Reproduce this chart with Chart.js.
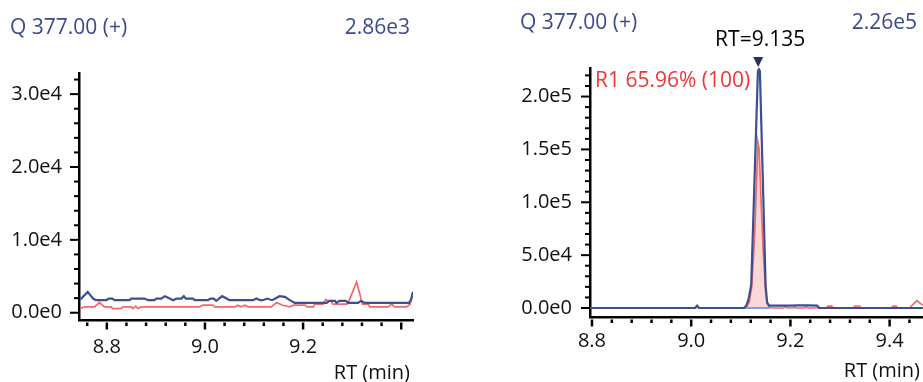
<!DOCTYPE html>
<html>
<head>
<meta charset="utf-8">
<script src="https://cdn.jsdelivr.net/npm/chart.js@4.4.1/dist/chart.umd.min.js"></script>
<style>
  html, body { margin: 0; padding: 0; background: #fff; overflow: hidden; }
  #wrap { position: relative; width: 923px; height: 382px; font-family: 'Open Sans', sans-serif; }
  .panel { position: absolute; top: 0; height: 382px; }
  .lbl { position: absolute; font-size: 20px; line-height: 20px; white-space: nowrap; }
  .hdr { color: #3b4a8c; font-size: 21px; line-height: 21px; }
  .axt { color: #111; }
</style>
</head>
<body>
<div id="wrap">
  <div class="panel" style="left:0;width:460px"><canvas id="chartA" width="460" height="382"></canvas></div>
  <div class="panel" style="left:460px;width:463px"><canvas id="chartB" width="463" height="382"></canvas></div>
  <div class="lbl hdr" id="hdrA" style="left:10px;top:16px"></div>
  <div class="lbl hdr" id="maxA" style="right:513px;top:16px"></div>
  <div class="lbl hdr" id="hdrB" style="left:520px;top:11px"></div>
  <div class="lbl hdr" id="maxB" style="right:6px;top:11px"></div>
  <div class="lbl axt" id="xtA" style="right:513px;top:361.5px"></div>
  <div class="lbl axt" id="xtB" style="right:3px;top:359.5px"></div>
</div>
<script>
// ---- labels ----
const traceLabel = 'Q 377.00 (+)';
const panelAMaxLabel = '2.86e3';
const panelBMaxLabel = '2.26e5';
const xAxisTitle = 'RT (min)';
const rtLabel = 'RT=9.135';
const qualLabel = 'R1 65.96% (100)';

// ---- tick labels ----
const panelAXLabels = ['8.8', '9.0', '9.2'];
const panelBXLabels = ['8.8', '9.0', '9.2', '9.4'];
const panelAYLabels = ['0.0e0', '1.0e4', '2.0e4', '3.0e4'];
const panelBYLabels = ['0.0e0', '5.0e4', '1.0e5', '1.5e5', '2.0e5'];

// ---- panel A: quantifier (blue) and qualifier (red) traces ----
const panelAQuantRT = [8.746, 8.761, 8.772, 8.778, 8.799, 8.804, 8.811, 8.816, 8.846, 8.850,
  8.877, 8.884, 8.897, 8.901, 8.911, 8.918, 8.925, 8.935, 8.942, 8.952, 8.957, 8.961, 8.976,
  8.979, 9.006, 9.011, 9.018, 9.023, 9.035, 9.044, 9.050, 9.098, 9.105, 9.112, 9.118, 9.127,
  9.137, 9.152, 9.163, 9.173, 9.183, 9.248, 9.253, 9.265, 9.268, 9.274, 9.287, 9.292, 9.312,
  9.318, 9.326, 9.416, 9.420, 9.424];
const panelAQuantInt = [1810, 2860, 1940, 1720, 1720, 1940, 1940, 1720, 1720, 1940,
  1940, 1720, 1720, 1940, 1940, 2270, 2040, 1720, 1940, 1940, 2270, 1940, 1940,
  1720, 1720, 1940, 1940, 1620, 2270, 1940, 1720, 1720, 1940, 1720, 1720, 1940,
  1720, 2270, 2170, 1720, 1350, 1350, 1620, 1620, 1350, 1620, 1620, 1350, 1350,
  1620, 1350, 1350, 1810, 2860];
const panelAQualRT = [8.746, 8.755, 8.775, 8.785, 8.795, 8.809, 8.812, 8.829, 8.833, 8.850,
  8.853, 8.859, 8.863, 8.870, 8.989, 8.996, 9.016, 9.020, 9.061, 9.067, 9.074, 9.081, 9.088,
  9.135, 9.146, 9.158, 9.173, 9.180, 9.204, 9.208, 9.221, 9.224, 9.241, 9.246, 9.251, 9.256,
  9.261, 9.289, 9.292, 9.309, 9.321, 9.333, 9.336, 9.374, 9.380, 9.387, 9.411, 9.418, 9.424];
const panelAQualInt = [570, 800, 800, 1400, 800, 800, 570, 570, 800, 800,
  570, 890, 570, 800, 800, 1030, 1030, 800, 800, 1030, 800, 1030, 800,
  800, 1400, 1030, 800, 1030, 1030, 800, 800, 1170, 1170, 1810, 1620, 1620,
  1170, 1170, 1350, 4230, 1170, 1170, 800, 800, 1170, 800, 800, 1170, 2630];

// ---- panel B: quantifier (blue) and qualifier (red) traces ----
const panelBQuantRT = [8.796, 9.008, 9.012, 9.016, 9.106, 9.111, 9.116, 9.121, 9.127, 9.1345,
  9.1365, 9.1385, 9.145, 9.150, 9.153, 9.157, 9.200, 9.215, 9.235, 9.254, 9.258, 9.467];
const panelBQuantInt = [0, 0, 2200, 0, 0, 2000, 9000, 22000, 111000, 224000,
  226000, 224000, 111000, 22000, 5000, 2200, 2200, 2500, 2500, 2200, 0, 0];
const panelBQualRT = [8.796, 9.008, 9.012, 9.016, 9.106, 9.112, 9.117, 9.122, 9.128, 9.1345,
  9.137, 9.141, 9.145, 9.150, 9.154, 9.158, 9.162, 9.185, 9.190, 9.194, 9.205, 9.208, 9.212,
  9.228, 9.232, 9.236, 9.272, 9.276, 9.283, 9.287, 9.326, 9.330, 9.339, 9.343, 9.403, 9.407,
  9.413, 9.417, 9.440, 9.455, 9.467];
const panelBQualInt = [0, 0, 1500, 0, 0, 1500, 6000, 20000, 70000, 157000,
  150000, 100000, 55000, 15000, 4000, 800, 0, 0, 1200, 0, 0, 1000, 0,
  0, 1200, 0, 0, 1800, 1800, 0, 0, 1900, 1900, 0, 0, 1800,
  1800, 0, 0, 7000, 2500];

// integrated peak window and apex
const peakStart = 9.106;
const peakEnd = 9.158;
const peakRT = 9.135;

const BLUE = '#3b4f91';
const RED = '#f06a6a';
const FONT = "'Open Sans', sans-serif";

function steps(from, to, step) {
  const n = Math.round((to - from) / step);
  return Array.from({ length: n + 1 }, (_, i) => +(from + i * step).toFixed(4));
}
function series(rt, val) { return rt.map((t, i) => ({ x: t, y: val[i] })); }
function isMajor(v, step) { const q = v / step; return Math.abs(q - Math.round(q)) < 1e-6; }

// tick marks: minor and longer major marks on both axes
const tickMarks = {
  id: 'tickMarks',
  afterDraw(chart, args, opts) {
    const { ctx, chartArea: a, scales: { x, y } } = chart;
    ctx.save();
    ctx.strokeStyle = '#000';
    ctx.lineWidth = 2.5;
    x.ticks.forEach(t => {
      const px = x.getPixelForValue(t.value);
      const len = isMajor(t.value, opts.xMajor) ? 7 : 3.5;
      ctx.beginPath();
      ctx.moveTo(px, a.bottom + 2.5);
      ctx.lineTo(px, a.bottom + 2.5 + len);
      ctx.stroke();
    });
    ctx.lineWidth = 2;
    y.ticks.forEach(t => {
      const py = y.getPixelForValue(t.value);
      const len = isMajor(t.value, opts.yMajor) ? 9 : 5;
      ctx.beginPath();
      ctx.moveTo(a.left, py);
      ctx.lineTo(a.left - len, py);
      ctx.stroke();
    });
    ctx.restore();
  }
};

// retention-time marker and ion-ratio note on the sample panel
const peakNotes = {
  id: 'peakNotes',
  afterDraw(chart, args, opts) {
    if (!opts.show) return;
    const { ctx, chartArea: a, scales: { x, y } } = chart;
    const px = x.getPixelForValue(peakRT);
    const apex = y.getPixelForValue(Math.max(...panelBQuantInt)) - 2;
    ctx.save();
    ctx.fillStyle = '#263061';
    ctx.beginPath();
    ctx.moveTo(px - 5, apex - 10);
    ctx.lineTo(px + 5, apex - 10);
    ctx.lineTo(px, apex);
    ctx.closePath();
    ctx.fill();
    ctx.font = '21px ' + FONT;
    ctx.fillStyle = '#000';
    ctx.textAlign = 'center';
    ctx.textBaseline = 'alphabetic';
    ctx.fillText(rtLabel, px + 2, apex - 21);
    ctx.fillStyle = '#ee3636';
    ctx.textAlign = 'left';
    ctx.fillText(qualLabel, a.left + 5, a.top + 18.5);
    ctx.restore();
  }
};

function buildChart(id, p) {
  const datasets = [
    { data: series(p.quantRT, p.quantInt), borderColor: BLUE, borderWidth: 2.2, fill: false },
    { data: series(p.qualRT, p.qualInt), borderColor: RED, borderWidth: 1.7, fill: false }
  ];
  if (p.area) {
    const pts = series(p.qualRT, p.qualInt).filter(d => d.x >= peakStart && d.x <= peakEnd);
    datasets.push({ data: pts, borderWidth: 0, borderColor: 'rgba(0,0,0,0)',
      backgroundColor: 'rgba(240,110,110,0.28)', fill: 'origin' });
    datasets.push({ data: [{ x: peakStart, y: 0 }, { x: peakEnd, y: 0 }],
      borderColor: '#4f86d6', borderWidth: 1.5, fill: false });
  }
  return new Chart(document.getElementById(id), {
    type: 'line',
    data: { datasets },
    options: {
      responsive: false,
      animation: false,
      devicePixelRatio: 1,
      layout: { padding: p.padding },
      elements: { point: { radius: 0 }, line: { tension: 0 } },
      plugins: {
        legend: { display: false },
        tooltip: { enabled: false },
        tickMarks: { xMajor: 0.2, yMajor: p.yMajor },
        peakNotes: { show: !!p.area }
      },
      scales: {
        x: {
          type: 'linear', bounds: 'data', min: p.xMin, max: p.xMax,
          afterBuildTicks: s => { s.ticks = p.xTicks.map(v => ({ value: v })); },
          afterFit: s => { s.height = p.xHeight; },
          grid: { display: false, drawTicks: false },
          border: { display: true, color: '#000', width: 2.5 },
          ticks: {
            autoSkip: false, maxRotation: 0, padding: p.xPad, color: '#111',
            font: { family: FONT, size: 20 },
            callback: v => {
              const s = v.toFixed(1);
              return isMajor(v, 0.2) && p.xLabels.includes(s) ? s : '';
            }
          }
        },
        y: {
          type: 'linear', bounds: 'data', min: p.yMin, max: p.yMax,
          afterBuildTicks: s => { s.ticks = p.yTicks.map(v => ({ value: v })); },
          afterFit: s => { s.width = p.yWidth; },
          grid: { display: false, drawTicks: false },
          border: { display: true, color: '#000', width: 2.5 },
          ticks: {
            autoSkip: false, padding: p.yPad, color: '#111',
            font: { family: FONT, size: 20 },
            callback: v => {
              const s = v.toExponential(1).replace('e+', 'e');
              return isMajor(v, p.yMajor) && p.yLabels.includes(s) ? s : '';
            }
          }
        }
      }
    },
    plugins: [tickMarks, peakNotes]
  });
}

buildChart('chartA', {
  quantRT: panelAQuantRT, quantInt: panelAQuantInt, qualRT: panelAQualRT, qualInt: panelAQualInt,
  xMin: 8.7433, xMax: 9.424, yMin: -1000, yMax: 32900,
  xTicks: steps(8.76, 9.40, 0.04), yTicks: steps(0, 32000, 2000),
  xLabels: panelAXLabels, yLabels: panelAYLabels, yMajor: 10000,
  padding: { top: 73, right: 47, bottom: 0, left: 0 },
  yWidth: 79, xHeight: 62, xPad: 15, yPad: 17, area: false
});

buildChart('chartB', {
  quantRT: panelBQuantRT, quantInt: panelBQuantInt, qualRT: panelBQualRT, qualInt: panelBQualInt,
  xMin: 8.796, xMax: 9.4673, yMin: -8500, yMax: 227000,
  xTicks: steps(8.80, 9.44, 0.04), yTicks: steps(0, 220000, 10000),
  xLabels: panelBXLabels, yLabels: panelBYLabels, yMajor: 50000,
  padding: { top: 68, right: 0, bottom: 0, left: 0 },
  yWidth: 130, xHeight: 65, xPad: 12, yPad: 18, area: true
});

document.getElementById('hdrA').textContent = traceLabel;
document.getElementById('hdrB').textContent = traceLabel;
document.getElementById('maxA').textContent = panelAMaxLabel;
document.getElementById('maxB').textContent = panelBMaxLabel;
document.getElementById('xtA').textContent = xAxisTitle;
document.getElementById('xtB').textContent = xAxisTitle;
</script>
</body>
</html>
